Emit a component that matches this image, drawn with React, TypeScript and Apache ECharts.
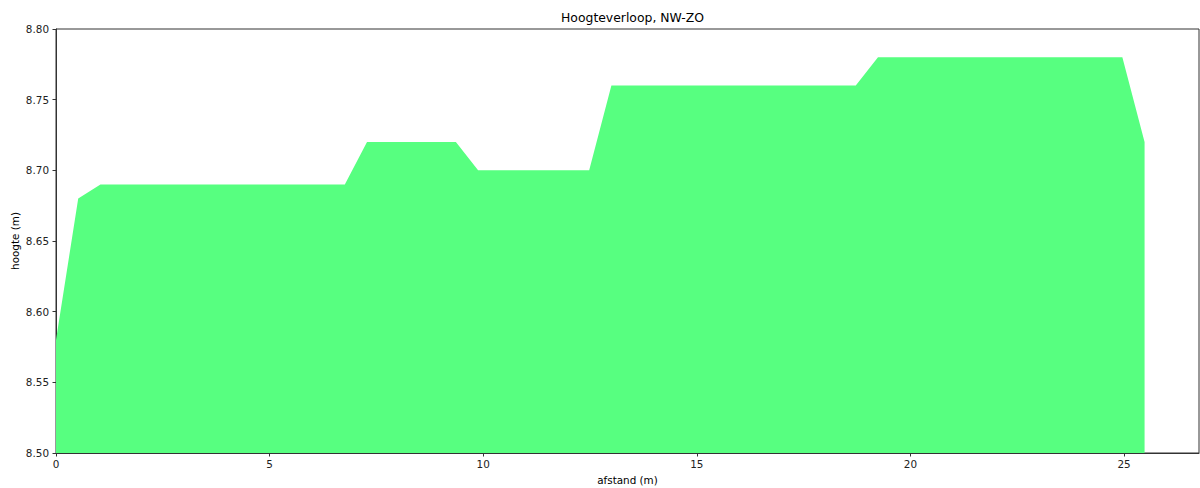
import React, { useEffect, useRef } from "react";
import * as echarts from "echarts";

const distances = [
  0, 0.52, 1.04, 1.56, 2.08, 2.6, 3.12, 3.64, 4.16, 4.68,
  5.2, 5.72, 6.24, 6.76, 7.28, 7.8, 8.32, 8.84, 9.36, 9.88,
  10.4, 10.92, 11.44, 11.96, 12.48, 13.0, 13.52, 14.04, 14.56, 15.08,
  15.6, 16.12, 16.64, 17.16, 17.68, 18.2, 18.72, 19.24, 19.76, 20.28,
  20.8, 21.32, 21.84, 22.36, 22.88, 23.4, 23.92, 24.44, 24.96, 25.48,
];
const heights = [
  8.58, 8.68, 8.69, 8.69, 8.69, 8.69, 8.69, 8.69, 8.69, 8.69,
  8.69, 8.69, 8.69, 8.69, 8.72, 8.72, 8.72, 8.72, 8.72, 8.7,
  8.7, 8.7, 8.7, 8.7, 8.7, 8.76, 8.76, 8.76, 8.76, 8.76,
  8.76, 8.76, 8.76, 8.76, 8.76, 8.76, 8.76, 8.78, 8.78, 8.78,
  8.78, 8.78, 8.78, 8.78, 8.78, 8.78, 8.78, 8.78, 8.78, 8.72,
];
const xTicks = [0, 5, 10, 15, 20, 25];
const yTicks = [8.5, 8.55, 8.6, 8.65, 8.7, 8.75, 8.8];
const xMax = 26.754;

const FONT = "DejaVu Sans";

export default function App() {
  const ref = useRef<HTMLDivElement>(null);
  useEffect(() => {
    if (!ref.current) return;
    const chart = echarts.init(ref.current, null, { renderer: "svg" });
    chart.setOption({
      animation: false,
      backgroundColor: "#ffffff",
      textStyle: { fontFamily: FONT },
      title: {
        text: "Hoogteverloop, NW-ZO",
        left: 627.5,
        textAlign: "center",
        top: 6,
        textStyle: { fontFamily: FONT, fontSize: 12.4, fontWeight: "normal", color: "#000" },
      },
      grid: {
        left: 56,
        top: 29,
        right: 1,
        bottom: 35,
        outerBoundsMode: "none",
        containLabel: false,
        show: true,
        borderColor: "#333",
        borderWidth: 1,
        backgroundColor: "transparent",
      },
      xAxis: {
        type: "value",
        min: 0,
        max: xMax,
        name: "afstand (m)",
        nameLocation: "middle",
        nameGap: 22,
        nameMoveOverlap: false,
        nameTextStyle: { fontFamily: FONT, fontSize: 10.4, color: "#000" },
        axisLine: { show: true, lineStyle: { color: "#333", width: 1 } },
        axisTick: { show: true, length: 3.5, lineStyle: { color: "#333" }, customValues: xTicks },
        axisLabel: {
          fontFamily: FONT,
          fontSize: 10.4,
          color: "#222",
          margin: 6,
          customValues: xTicks,
          formatter: (v: number) => String(v),
        },
        splitLine: { show: false },
      },
      yAxis: {
        type: "value",
        min: 8.5,
        max: 8.8,
        name: "hoogte (m)",
        nameLocation: "middle",
        nameGap: 36,
        nameRotate: 90,
        nameMoveOverlap: false,
        nameTextStyle: { fontFamily: FONT, fontSize: 10.4, color: "#000" },
        axisLine: { show: true, lineStyle: { color: "#333", width: 1 } },
        axisTick: { show: true, length: 3.5, lineStyle: { color: "#333" }, customValues: yTicks },
        axisLabel: {
          fontFamily: FONT,
          fontSize: 10.4,
          color: "#222",
          margin: 7,
          customValues: yTicks,
          formatter: (v: number) => v.toFixed(2),
        },
        splitLine: { show: false },
      },
      series: [
        {
          type: "line",
          data: distances.map((d, i) => [d, heights[i]]),
          showSymbol: false,
          symbol: "none",
          lineStyle: { width: 0, color: "#57ff80" },
          itemStyle: { color: "#57ff80" },
          areaStyle: { color: "#57ff80", opacity: 1, origin: "start" },
          z: 1,
        },
      ],
    });
    return () => chart.dispose();
  }, []);
  return (
    <div
      ref={ref}
      style={{ position: "fixed", left: 0, top: 0, width: 1200, height: 488 }}
    />
  );
}
